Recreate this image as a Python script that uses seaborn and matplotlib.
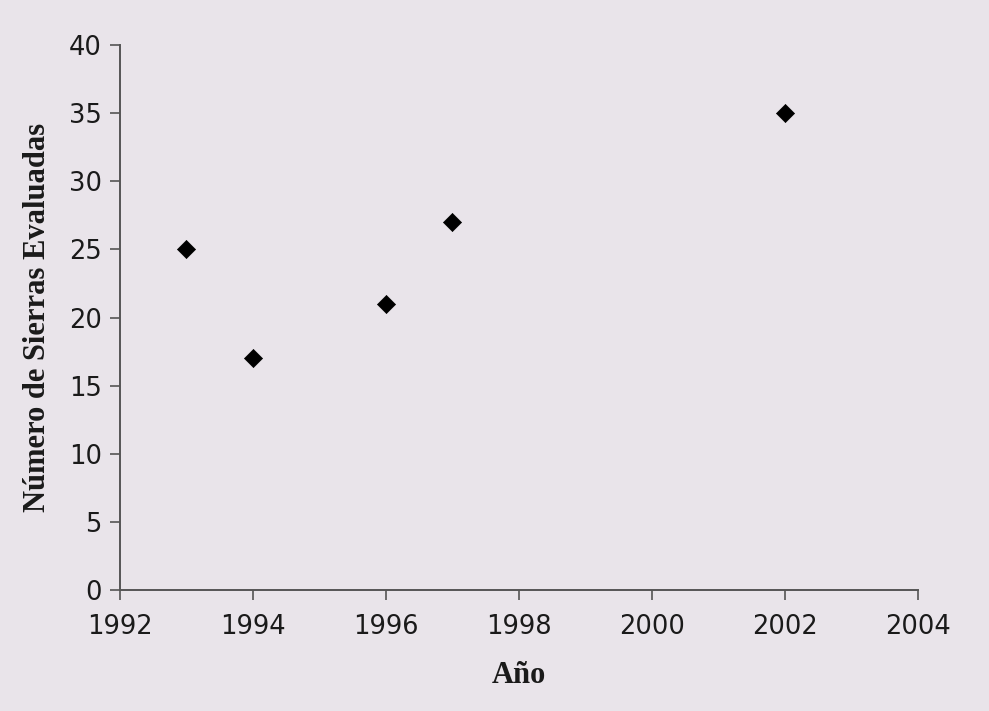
import matplotlib
matplotlib.use("Agg")
import matplotlib.pyplot as plt
import seaborn as sns
import pandas as pd

years = [1993, 1994, 1996, 1997, 2002]
sierras = [25, 17, 21, 27, 35]
x_ticks = [1992, 1994, 1996, 1998, 2000, 2002, 2004]
y_ticks = [0, 5, 10, 15, 20, 25, 30, 35, 40]
x_label = "Año"
y_label = "Número de Sierras Evaluadas"

df = pd.DataFrame({"Año": years, "Sierras": sierras})

sns.set_theme(style="white")
plt.rcParams['font.family'] = ['DejaVu Sans']
plt.rcParams['font.sans-serif'] = ['DejaVu Sans']

bg = "#e9e4ea"
fig = plt.figure(figsize=(9.89, 7.11), dpi=100, facecolor=bg)
ax = fig.add_axes([0.1213, 0.170, 0.8067, 0.7667])
ax.set_facecolor(bg)

sns.scatterplot(data=df, x="Año", y="Sierras", ax=ax, marker="D", s=85,
                color="black", edgecolor="black", linewidth=0.5, legend=False)

ax.set_xlim(1992, 2004)
ax.set_ylim(0, 40)
ax.set_xticks(x_ticks)
ax.set_yticks(y_ticks)
ax.tick_params(axis="both", which="both", direction="out", length=7, width=1.2,
               color="#555555", labelsize=18.5, labelcolor="#1a1a1a", pad=6,
               bottom=True, left=True)
ax.tick_params(axis="x", pad=10)
for lbl in ax.get_xticklabels() + ax.get_yticklabels():
    lbl.set_family("DejaVu Sans")

for side in ["top", "right"]:
    ax.spines[side].set_visible(False)
for side in ["left", "bottom"]:
    ax.spines[side].set_color("#555555")
    ax.spines[side].set_linewidth(1.4)

ax.set_xlabel(x_label, fontsize=22, fontweight="bold", family="Liberation Serif",
              color="#1a1a1a", labelpad=15)
ax.set_ylabel(y_label, fontsize=22, fontweight="bold", family="Liberation Serif",
              color="#1a1a1a", labelpad=12)

fig.savefig("out.png", dpi=100, facecolor=bg)
